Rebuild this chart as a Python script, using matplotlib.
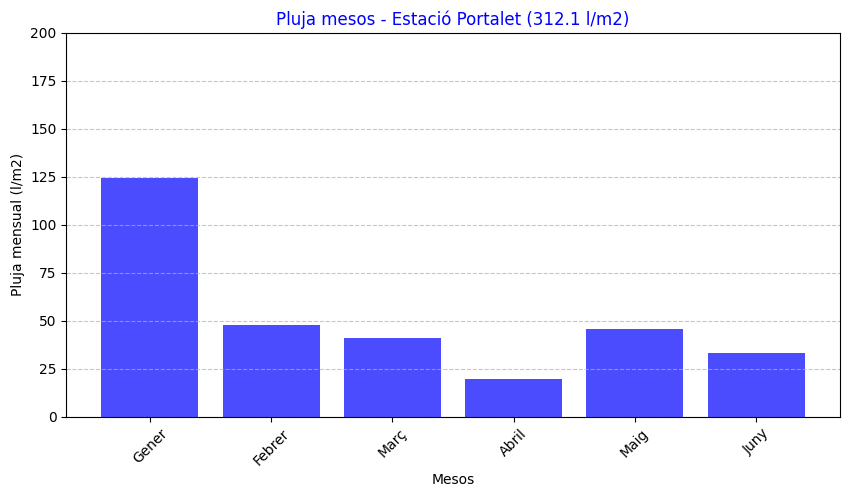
import numpy as np
import matplotlib.pyplot as plt

mesos = ["Gener", "Febrer", "Març", "Abril", "Maig", "Juny"]
pluja = [124.6, 48.0, 40.8, 19.8, 45.5, 33.4]
total = 312.1

fig, ax = plt.subplots(figsize=(8.5, 4.98), dpi=100)
fig.subplots_adjust(left=0.078, right=0.988, top=0.934, bottom=0.163)

ax.bar(mesos, pluja, color="blue", alpha=0.7)
ax.set_ylim(0, 200)
ax.set_yticks(np.arange(0, 201, 25))
ax.set_title(f"Pluja mesos - Estació Portalet ({total} l/m2)", color="blue")
ax.set_xlabel("Mesos")
ax.set_ylabel("Pluja mensual (l/m2)")
ax.grid(axis="y", linestyle="--", alpha=0.7)
plt.xticks(rotation=45)

plt.savefig("out.png")
